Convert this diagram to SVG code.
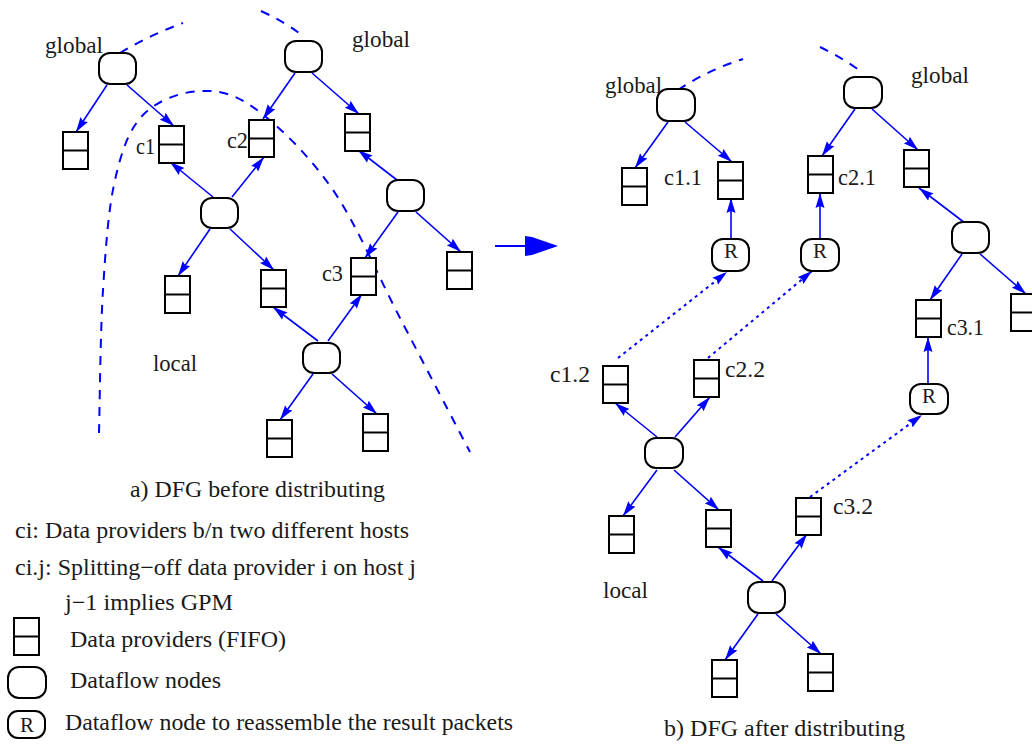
<svg xmlns="http://www.w3.org/2000/svg" width="1032" height="745" viewBox="0 0 1032 745">
<style>
.t{font-family:"Liberation Serif","Times New Roman",serif;font-size:23px;fill:#1a1a1a}
.r{font-family:"Liberation Serif","Times New Roman",serif;font-size:21px;fill:#1a1a1a;text-anchor:middle}
.n{fill:#fff;stroke:#000;stroke-width:2}
.b{fill:#fff;stroke:#000;stroke-width:2}
.m{stroke:#000;stroke-width:2}
.e{stroke:#0000ff;stroke-width:1.6;fill:none;marker-end:url(#ah)}
.d{stroke:#0000ff;stroke-width:2;fill:none;stroke-dasharray:3 4;marker-end:url(#ah)}
.s{stroke:#0000ff;stroke-width:2;fill:none;stroke-dasharray:9 8}
</style>
<defs>
<marker id="ah" viewBox="0 0 15 10" refX="15" refY="5" markerWidth="15" markerHeight="10" markerUnits="userSpaceOnUse" orient="auto">
<path d="M0,0.5 L5,2 L15,5 L5,8 L0,9.5 L2,5 Z" fill="#0000ff"/>
</marker>
<g id="box"><rect class="b" x="0" y="0" width="25" height="37"/><line class="m" x1="0" y1="18.5" x2="25" y2="18.5"/></g>
</defs>
<rect width="1032" height="745" fill="#fff"/>

<g id="separators">
<path class="s" d="M120,53 Q150,35 183,23"/>
<path class="s" d="M261,11 Q285,22 303,36"/>
<path class="s" d="M99,433 C99.7,409.2 100.3,332.2 103,290 C105.7,247.8 108.3,209.2 115,180 C121.7,150.8 128.8,129.8 143,115 C157.2,100.2 181,91.8 200,91 C219,90.2 234.8,93.5 257,110 C279.2,126.5 309.2,155.3 333,190 C356.8,224.7 377.2,274.3 400,318 C422.8,361.7 458.3,429.7 470,452"/>
<path class="s" d="M678,90 Q708,70 743,59"/>
<path class="s" d="M820,47 Q843,58 863,73"/>
</g>

<g id="connectors">
<line class="e" x1="107" y1="85" x2="76" y2="132"/>
<line class="e" x1="127" y1="85" x2="174" y2="126"/>
<line class="e" x1="295" y1="73" x2="263" y2="119"/>
<line class="e" x1="312" y1="73" x2="359" y2="114"/>
<line class="e" x1="213" y1="197" x2="170" y2="162"/>
<line class="e" x1="232" y1="197" x2="264" y2="157"/>
<line class="e" x1="210" y1="229" x2="178" y2="276"/>
<line class="e" x1="230" y1="229" x2="274" y2="270"/>
<line class="e" x1="397" y1="180" x2="358" y2="150"/>
<line class="e" x1="398" y1="212" x2="365" y2="258"/>
<line class="e" x1="416" y1="212" x2="461" y2="252"/>
<line class="e" x1="318" y1="341" x2="273" y2="307"/>
<line class="e" x1="328" y1="341" x2="362" y2="294"/>
<line class="e" x1="313" y1="374" x2="280" y2="420"/>
<line class="e" x1="332" y1="374" x2="377" y2="414"/>
<line stroke="#0000ff" stroke-width="2" x1="495" y1="246" x2="530" y2="246"/>
<polygon fill="#0000ff" points="525,236 532,237 558,246 532,255 525,256"/>
<line class="e" x1="668" y1="122" x2="635" y2="168"/>
<line class="e" x1="685" y1="122" x2="732" y2="162"/>
<line class="e" x1="855" y1="109" x2="822" y2="156"/>
<line class="e" x1="872" y1="109" x2="918" y2="150"/>
<line class="e" x1="965" y1="223" x2="919" y2="188"/>
<line class="e" x1="962" y1="254" x2="930" y2="300"/>
<line class="e" x1="980" y1="254" x2="1026" y2="294"/>
<line class="e" x1="731" y1="239" x2="731" y2="198"/>
<line class="e" x1="820" y1="239" x2="820" y2="193"/>
<line class="e" x1="928" y1="384" x2="928" y2="337"/>
<line class="d" x1="618" y1="358" x2="727" y2="272"/>
<line class="d" x1="708" y1="358" x2="812" y2="271"/>
<line class="d" x1="810" y1="497" x2="922" y2="415"/>
<line class="e" x1="657" y1="437" x2="615" y2="403"/>
<line class="e" x1="675" y1="437" x2="710" y2="397"/>
<line class="e" x1="657" y1="470" x2="623" y2="516"/>
<line class="e" x1="674" y1="470" x2="719" y2="510"/>
<line class="e" x1="763" y1="581" x2="718" y2="547"/>
<line class="e" x1="772" y1="581" x2="807" y2="534"/>
<line class="e" x1="758" y1="614" x2="725" y2="660"/>
<line class="e" x1="776" y1="614" x2="821" y2="654"/>
</g>

<g id="L-N1"><rect class="n" x="99" y="53" width="37" height="31" rx="11"/></g>
<g id="L-N2"><rect class="n" x="285" y="41" width="37" height="31" rx="11"/></g>
<g id="L-N3"><rect class="n" x="201" y="198" width="37" height="30" rx="11"/></g>
<g id="L-N4"><rect class="n" x="387" y="180" width="37" height="31" rx="11"/></g>
<g id="L-N5"><rect class="n" x="303" y="343" width="37" height="30" rx="11"/></g>
<g id="L-B1"><use href="#box" x="63" y="132"/></g>
<g id="L-c1"><use href="#box" x="159" y="126"/></g>
<g id="L-c2"><use href="#box" x="249" y="120"/></g>
<g id="L-B2"><use href="#box" x="345" y="114"/></g>
<g id="L-B3"><use href="#box" x="165" y="276"/></g>
<g id="L-B4"><use href="#box" x="261" y="270"/></g>
<g id="L-c3"><use href="#box" x="351" y="258"/></g>
<g id="L-B5"><use href="#box" x="447" y="252"/></g>
<g id="L-B6"><use href="#box" x="267" y="420"/></g>
<g id="L-B7"><use href="#box" x="363" y="414"/></g>

<g id="R-N6"><rect class="n" x="657" y="89" width="38" height="32" rx="11"/></g>
<g id="R-N7"><rect class="n" x="844" y="77" width="38" height="31" rx="11"/></g>
<g id="R-N8"><rect class="n" x="952" y="222" width="37" height="31" rx="11"/></g>
<g id="R-N9"><rect class="n" x="645" y="438" width="38" height="30" rx="11"/></g>
<g id="R-N10"><rect class="n" x="748" y="582" width="37" height="31" rx="11"/></g>
<g id="R-R1"><rect class="n" x="712" y="239" width="37" height="32" rx="11"/><text class="r" x="731" y="258">R</text></g>
<g id="R-R2"><rect class="n" x="801" y="239" width="38" height="32" rx="11"/><text class="r" x="820" y="258">R</text></g>
<g id="R-R3"><rect class="n" x="910" y="384" width="38" height="30" rx="11"/><text class="r" x="929" y="403">R</text></g>
<g id="R-B1"><use href="#box" x="622" y="168"/></g>
<g id="R-c11"><use href="#box" x="718" y="162"/></g>
<g id="R-c21"><use href="#box" x="808" y="156"/></g>
<g id="R-B2"><use href="#box" x="904" y="150"/></g>
<g id="R-c31"><use href="#box" x="916" y="300"/></g>
<g id="R-B3"><use href="#box" x="1011" y="294"/></g>
<g id="R-c12"><use href="#box" x="603" y="366"/></g>
<g id="R-c22"><use href="#box" x="694" y="360"/></g>
<g id="R-B4"><use href="#box" x="609" y="516"/></g>
<g id="R-B5"><use href="#box" x="706" y="510"/></g>
<g id="R-c32"><use href="#box" x="796" y="498"/></g>
<g id="R-B6"><use href="#box" x="712" y="660"/></g>
<g id="R-B7"><use href="#box" x="808" y="654"/></g>

<g id="labels">
<text class="t" x="45" y="53" textLength="58" lengthAdjust="spacingAndGlyphs">global</text>
<text class="t" x="352" y="47" textLength="58" lengthAdjust="spacingAndGlyphs">global</text>
<text class="t" x="136" y="154" textLength="19" lengthAdjust="spacingAndGlyphs">c1</text>
<text class="t" x="227" y="148" textLength="21" lengthAdjust="spacingAndGlyphs">c2</text>
<text class="t" x="322" y="281" textLength="21" lengthAdjust="spacingAndGlyphs">c3</text>
<text class="t" x="153" y="371" textLength="44" lengthAdjust="spacingAndGlyphs">local</text>
<text class="t" x="130" y="497" textLength="255" lengthAdjust="spacingAndGlyphs">a) DFG before distributing</text>
<text class="t" x="605" y="93" textLength="57" lengthAdjust="spacingAndGlyphs">global</text>
<text class="t" x="911" y="83" textLength="58" lengthAdjust="spacingAndGlyphs">global</text>
<text class="t" x="664" y="185" textLength="38" lengthAdjust="spacingAndGlyphs">c1.1</text>
<text class="t" x="838" y="185" textLength="38" lengthAdjust="spacingAndGlyphs">c2.1</text>
<text class="t" x="550" y="382" textLength="40" lengthAdjust="spacingAndGlyphs">c1.2</text>
<text class="t" x="725" y="377" textLength="40" lengthAdjust="spacingAndGlyphs">c2.2</text>
<text class="t" x="947" y="335" textLength="37" lengthAdjust="spacingAndGlyphs">c3.1</text>
<text class="t" x="833" y="514" textLength="40" lengthAdjust="spacingAndGlyphs">c3.2</text>
<text class="t" x="603" y="598" textLength="45" lengthAdjust="spacingAndGlyphs">local</text>
<text class="t" x="664" y="736" textLength="241" lengthAdjust="spacingAndGlyphs">b) DFG after distributing</text>
</g>

<g id="legend">
<text class="t" x="15" y="538" textLength="394" lengthAdjust="spacingAndGlyphs">ci: Data providers b/n two different hosts</text>
<text class="t" x="15" y="575" textLength="401" lengthAdjust="spacingAndGlyphs">ci.j: Splitting−off data provider i on host j</text>
<text class="t" x="65" y="610" textLength="168" lengthAdjust="spacingAndGlyphs">j−1 implies GPM</text>
<use href="#box" x="14" y="618"/>
<text class="t" x="70" y="647" textLength="216" lengthAdjust="spacingAndGlyphs">Data providers (FIFO)</text>
<rect class="n" x="8" y="667" width="38" height="31" rx="11"/>
<text class="t" x="70" y="688" textLength="151" lengthAdjust="spacingAndGlyphs">Dataflow nodes</text>
<rect class="n" x="8" y="711" width="37" height="27" rx="10"/>
<text class="r" x="27" y="732">R</text>
<text class="t" x="65" y="730" textLength="448" lengthAdjust="spacingAndGlyphs">Dataflow node to reassemble the result packets</text>
</g>
</svg>
